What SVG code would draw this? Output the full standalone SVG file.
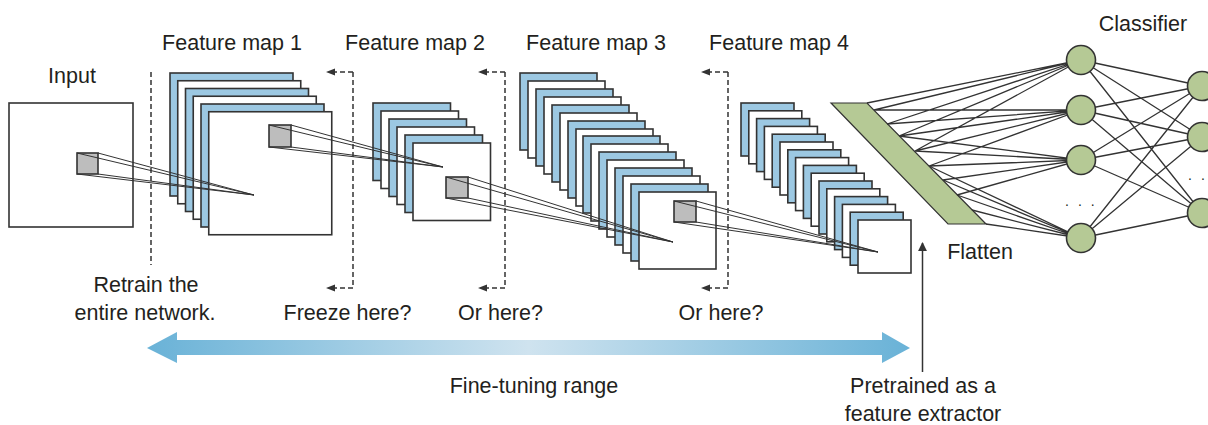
<svg xmlns="http://www.w3.org/2000/svg" width="1208" height="425" viewBox="0 0 1208 425">
<style>
text{font-family:"Liberation Sans",Arial,sans-serif;font-size:21.5px;fill:#231f20;text-anchor:middle}
.b{fill:#9cc8e2;stroke:#333;stroke-width:1.6}
.w{fill:#fff;stroke:#333;stroke-width:1.6}
.sq{fill:#bdbdbd;stroke:#333;stroke-width:1.6}
.cv{stroke:#333;stroke-width:1;fill:none}
.dash{stroke:#333;stroke-width:1.5;fill:none;stroke-dasharray:5 3}
.fc{stroke:#333;stroke-width:1.3;fill:none}
.node{fill:#b5c995;stroke:#333;stroke-width:1.6}
.dots{font-size:14px;text-anchor:start}
</style>
<defs>
<marker id="ah" viewBox="0 0 10 10" refX="9" refY="5" markerWidth="9" markerHeight="9" markerUnits="userSpaceOnUse" orient="auto">
<path d="M0,0 L10,5 L0,10 Z" fill="#333"/>
</marker>
<linearGradient id="rg" x1="147" y1="0" x2="910" y2="0" gradientUnits="userSpaceOnUse">
<stop offset="0" stop-color="#69b2d7"/>
<stop offset="0.5" stop-color="#cfe3ef"/>
<stop offset="1" stop-color="#69b2d7"/>
</linearGradient>
</defs>
<rect width="1208" height="425" fill="#fff"/>

<g id="input">
<rect x="9" y="103" width="124" height="124" class="w"/>
<rect x="77" y="153" width="21" height="21" class="sq"/>
<text x="72" y="83">Input</text>
</g>

<g id="fmap1">
<rect x="170" y="73" width="123" height="123" class="b"/>
<rect x="177.75" y="80.75" width="123" height="123" class="w"/>
<rect x="185.5" y="88.5" width="123" height="123" class="b"/>
<rect x="193.25" y="96.25" width="123" height="123" class="w"/>
<rect x="201" y="104" width="123" height="123" class="b"/>
<rect x="208.75" y="111.75" width="123" height="123" class="w"/>
<rect x="269" y="125" width="22" height="22" class="sq"/>
<text x="232" y="50">Feature map 1</text>
</g>

<g id="fmap2">
<rect x="373" y="103" width="77.5" height="77.5" class="b"/>
<rect x="381" y="111" width="77.5" height="77.5" class="w"/>
<rect x="389" y="119" width="77.5" height="77.5" class="b"/>
<rect x="397" y="127" width="77.5" height="77.5" class="w"/>
<rect x="405" y="135" width="77.5" height="77.5" class="b"/>
<rect x="413" y="143" width="77.5" height="77.5" class="w"/>
<rect x="446" y="177" width="22" height="21" class="sq"/>
<text x="415" y="50">Feature map 2</text>
</g>

<g id="fmap3">
<rect x="520" y="73" width="77" height="77" class="b"/>
<rect x="528" y="81" width="77" height="77" class="w"/>
<rect x="536" y="89" width="77" height="77" class="b"/>
<rect x="544" y="97" width="77" height="77" class="w"/>
<rect x="552" y="105" width="77" height="77" class="b"/>
<rect x="560" y="113" width="77" height="77" class="w"/>
<rect x="568" y="121" width="77" height="77" class="b"/>
<rect x="576" y="129" width="77" height="77" class="w"/>
<rect x="583" y="136" width="77" height="77" class="b"/>
<rect x="591" y="144" width="77" height="77" class="w"/>
<rect x="599" y="152" width="77" height="77" class="b"/>
<rect x="607" y="160" width="77" height="77" class="w"/>
<rect x="615" y="168" width="77" height="77" class="b"/>
<rect x="623" y="176" width="77" height="77" class="w"/>
<rect x="631" y="184" width="77" height="77" class="b"/>
<rect x="639" y="192" width="77" height="77" class="w"/>
<rect x="674" y="201" width="22" height="21" class="sq"/>
<text x="596" y="50">Feature map 3</text>
</g>

<g id="fmap4">
<rect x="741" y="103" width="53" height="53" class="b"/>
<rect x="748.8" y="110.8" width="53" height="53" class="w"/>
<rect x="756.6" y="118.6" width="53" height="53" class="b"/>
<rect x="764.4" y="126.4" width="53" height="53" class="w"/>
<rect x="772.2" y="134.2" width="53" height="53" class="b"/>
<rect x="780" y="142" width="53" height="53" class="w"/>
<rect x="787.8" y="149.8" width="53" height="53" class="b"/>
<rect x="795.6" y="157.6" width="53" height="53" class="w"/>
<rect x="803.4" y="165.4" width="53" height="53" class="b"/>
<rect x="811.2" y="173.2" width="53" height="53" class="w"/>
<rect x="819" y="181" width="53" height="53" class="b"/>
<rect x="826.8" y="188.8" width="53" height="53" class="w"/>
<rect x="834.6" y="196.6" width="53" height="53" class="b"/>
<rect x="842.4" y="204.4" width="53" height="53" class="w"/>
<rect x="850.2" y="212.2" width="53" height="53" class="b"/>
<rect x="858" y="220" width="53" height="53" class="w"/>
<text x="779" y="50">Feature map 4</text>
</g>

<g id="flatten">
<polygon points="831,103 867,103 986,224 948,224" fill="#b5c995" stroke="#333" stroke-width="1.2"/>
<text x="980" y="259">Flatten</text>
</g>

<g id="connectors">
<path class="cv" d="M77,153 L254,195 M98,153 L254,195 M77,174 L254,195 M98,174 L254,195"/>
<path class="cv" d="M269,125 L443,167 M291,125 L443,167 M269,147 L443,167 M291,147 L443,167"/>
<path class="cv" d="M446,177 L673,242 M468,177 L673,242 M446,198 L673,242 M468,198 L673,242"/>
<path class="cv" d="M674,201 L878,252 M696,201 L878,252 M674,222 L878,252 M696,222 L878,252"/>
<line class="dash" x1="151" y1="72" x2="151" y2="265"/>
<path class="dash" d="M353,72 H334"/>
<path class="dash" d="M353,72 V288 H334"/>
<path class="dash" d="M505,72 V288 H486"/>
<path class="dash" d="M505,72 H486"/>
<path class="dash" d="M728,72 V288 H709"/>
<path class="dash" d="M728,72 H709"/>
<path d="M335,68.5 L326,72 L335,75.5 Z M335,284.5 L326,288 L335,291.5 Z M487,68.5 L478,72 L487,75.5 Z M487,284.5 L478,288 L487,291.5 Z M710,68.5 L701,72 L710,75.5 Z M710,284.5 L701,288 L710,291.5 Z" fill="#333"/>
<path class="fc" d="M867,103 L1081,60 M874,110 L1081,60 M887,124 L1081,60 M899,136 L1081,60 M915,151 L1081,60
M874,110 L1081,110 M887,124 L1081,110 M899,136 L1081,110 M915,151 L1081,110 M929,166 L1081,110
M899,136 L1081,160 M915,151 L1081,160 M929,166 L1081,160 M943,180 L1081,160 M957,195 L1081,160
M929,166 L1081,238 M943,180 L1081,238 M957,195 L1081,238 M972,210 L1081,238 M986,224 L1081,238"/>
<path class="fc" d="M1081,60 L1202,86 M1081,60 L1202,137 M1081,60 L1202,213
M1081,110 L1202,86 M1081,110 L1202,137 M1081,110 L1202,213
M1081,160 L1202,86 M1081,160 L1202,137 M1081,160 L1202,213
M1081,238 L1202,86 M1081,238 L1202,137 M1081,238 L1202,213"/>
<polygon points="147,348 177,332 177,340 882,340 882,332 910,348 882,363 882,355 177,355 177,363" fill="url(#rg)"/>
<line x1="922.5" y1="372" x2="922.5" y2="243" stroke="#333" stroke-width="1.5" marker-end="url(#ah)"/>
</g>

<g id="classifier">
<circle cx="1081" cy="60" r="14.5" class="node"/>
<circle cx="1081" cy="110" r="14.5" class="node"/>
<circle cx="1081" cy="160" r="14.5" class="node"/>
<circle cx="1081" cy="238" r="14.5" class="node"/>
<text class="dots" x="1065" y="206">.<tspan dx="9">.</tspan><tspan dx="9">.</tspan></text>
<circle cx="1202" cy="86" r="14.5" class="node"/>
<circle cx="1202" cy="137" r="14.5" class="node"/>
<circle cx="1202" cy="213" r="14.5" class="node"/>
<text class="dots" x="1188" y="180">.<tspan dx="9">.</tspan></text>
<text x="1143" y="31">Classifier</text>
</g>

<g id="labels">
<text x="146" y="292">Retrain the</text>
<text x="145" y="320">entire network.</text>
<text x="347.5" y="320">Freeze here?</text>
<text x="500.5" y="320">Or here?</text>
<text x="721" y="320">Or here?</text>
<text x="534" y="393">Fine-tuning range</text>
<text x="923" y="393">Pretrained as a</text>
<text x="923" y="421">feature extractor</text>
</g>
</svg>
